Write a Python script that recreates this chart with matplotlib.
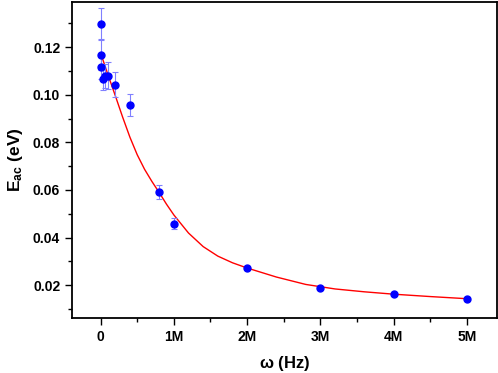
import numpy as np
import matplotlib
matplotlib.use('Agg')
import matplotlib.pyplot as plt
from matplotlib.ticker import MultipleLocator, FuncFormatter

plt.rcParams['font.family'] = ['Liberation Sans', 'DejaVu Sans']
plt.rcParams['mathtext.fontset'] = 'custom'
plt.rcParams['mathtext.bf'] = 'Liberation Sans:bold'
plt.rcParams['mathtext.rm'] = 'Liberation Sans:bold'

# frequency in MHz, activation energy in eV
freq = [0.001, 0.005, 0.01, 0.027, 0.058, 0.104, 0.2, 0.4, 0.8, 1.0, 2.0, 3.0, 4.0, 5.0]
e_ac = [0.1298, 0.1168, 0.1117, 0.1067, 0.1080, 0.1080, 0.1042, 0.0957, 0.0592, 0.0458,
        0.0274, 0.0189, 0.0162, 0.0140]
e_err = [0.0065, 0.0063, 0.0050, 0.0046, 0.0050, 0.0056, 0.0052, 0.0048, 0.0030, 0.0023,
         0.0008, 0.0006, 0.0005, 0.0004]

# fitted curve
fit_x = [0, 0.1, 0.2, 0.3, 0.4, 0.5, 0.6, 0.7, 0.8, 0.9, 1.0, 1.2, 1.4, 1.6, 1.8, 2.0,
         2.4, 2.8, 3.2, 3.6, 4.0, 4.5, 5.0]
fit_y = [0.1176, 0.1085, 0.0997, 0.0907, 0.0822, 0.0748, 0.0687, 0.0636, 0.0589, 0.0540,
         0.0495, 0.0419, 0.0362, 0.0322, 0.0294, 0.0272, 0.0234, 0.0203, 0.0184, 0.0172,
         0.0162, 0.0152, 0.0143]

fig = plt.figure(figsize=(4.98, 3.73), dpi=100)
ax = fig.add_axes([0.1446, 0.1475, 0.8534, 0.8471])

ax.plot(np.array(fit_x) * 1e6, fit_y, color='red', lw=1.0, zorder=2)
ax.errorbar(np.array(freq) * 1e6, e_ac, yerr=e_err, fmt='o', color='blue', ms=5,
            ecolor=(0.5, 0.5, 1.0), elinewidth=0.8, capsize=2.5, capthick=0.8, zorder=3)

ax.set_xlim(-0.39e6, 5.41e6)
ax.set_ylim(0.0062, 0.139)

ax.xaxis.set_major_locator(MultipleLocator(1e6))
ax.xaxis.set_minor_locator(MultipleLocator(0.5e6))
ax.yaxis.set_major_locator(MultipleLocator(0.02))
ax.yaxis.set_minor_locator(MultipleLocator(0.01))
ax.xaxis.set_major_formatter(FuncFormatter(lambda v, p: '0' if abs(v) < 1 else '%dM' % round(v / 1e6)))
ax.yaxis.set_major_formatter(FuncFormatter(lambda v, p: '%.2f' % v))

ax.tick_params(which='both', direction='out', width=1.0, labelsize=10)
ax.tick_params(which='major', length=5)
ax.tick_params(which='minor', length=3)
ax.tick_params(top=False, right=False)
for lab in ax.get_xticklabels() + ax.get_yticklabels():
    lab.set_fontweight('bold')
for s in ax.spines.values():
    s.set_linewidth(1.3)

ax.set_xlabel(r'$\mathbf{\omega}$ (Hz)', fontsize=12, fontweight='bold', labelpad=7)
ax.set_ylabel(r'$\mathbf{E_{ac}}$ (eV)', fontsize=12.5, fontweight='bold', labelpad=6)

fig.savefig('out.png', dpi=100)
